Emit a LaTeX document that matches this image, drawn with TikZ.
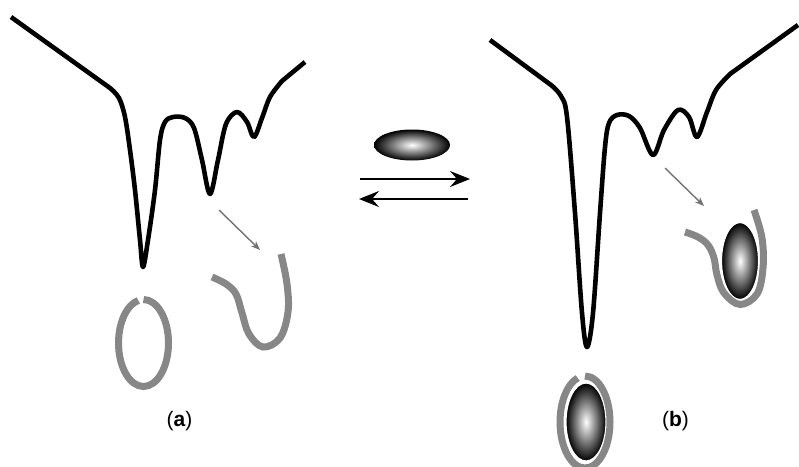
\documentclass[tikz,border=0pt]{standalone}
\usepackage{fontspec}
\setmainfont{Liberation Sans}
\usetikzlibrary{arrows.meta,shapes.geometric}
\newcommand{\strandwidth}{7pt}
\tikzset{
    curve style/.style={draw,black,line width=4.6pt,line join=round},
    strand style/.style={draw=black!47,line width=\strandwidth},
    ball style/.style={ellipse,inner sep=0pt,shading=radial,inner color=white,outer color=black},
    ball style bound/.style={ball style,draw=white,line width=1.2pt},
    arrow style eq/.style={line width=2.3pt,-{Stealth[length=20pt,width=16pt,inset=7pt]}},
    arrow style hint/.style={draw=black!55,line width=1.4pt,-{Stealth[length=9pt,width=7pt,inset=2.5pt]}},
    label style/.style={font=\fontsize{21}{24}\selectfont},
}

\begin{document}
\begin{tikzpicture}[x=1pt,y=-1pt]
\useasboundingbox (0,0) rectangle (799,466);

% free energy landscape, unbound state
\draw [curve style] (11,17) -- plot[smooth,tension=0.55] coordinates {
    (110,88) (119,98) (125,117) (130,150) (135,190) (140,240) (143,267)
    (148,240) (155,190) (160,140) (165,122) (173,117) (185,118) (194,128)
    (202,160) (210,194) (218,160) (226,124) (237,112) (247,122) (254,137)
    (262,118) (270,97) (282,81)} -- (305,62);

% free energy landscape, bound state
\draw [curve style] (490,40) -- plot[smooth,tension=0.55] coordinates {
    (551,85) (561,96) (567,117) (575,213) (582,313) (587,347)
    (593,313) (600,213) (605,147) (609,123) (617,115) (629,116) (640,128)
    (653,155) (664,130) (678,110) (689,117) (697,137) (707,112) (716,90)
    (730,74)} -- (798,25);

% ligand and the reversible step
\node [ball style,minimum width=76pt,minimum height=31pt] (ligand) at (412,145) {};
\coordinate (fwdL) at (360,179);
\coordinate (fwdR) at (470,179);
\coordinate (bwdL) at (359,199);
\coordinate (bwdR) at (468,199);
\draw [arrow style eq] (fwdL) -- (fwdR);
\draw [arrow style eq] (bwdR) -- (bwdL);

% unbound: closed loop and open strand
\draw [strand style] (143.5,343) ++(270:25 and 43.5)
    arc[start angle=270,end angle=618,x radius=25,y radius=43.5];
\draw [strand style] plot[smooth,tension=0.6] coordinates {
    (212,277) (226,284) (236,294) (242,313) (249,334) (263,347)
    (280,338) (288,312) (287,284) (281,254)};
\coordinate (hintA1) at (219,210);
\coordinate (hintA2) at (260,250);
\draw [arrow style hint] (hintA1) -- (hintA2);

% bound: ligand wrapped by the strand
\node [ball style bound,minimum width=37pt,minimum height=77pt] (boundB) at (740,261) {};
\draw [strand style] plot[smooth,tension=0.6] coordinates {
    (685,232) (698,237) (708,245) (714,258) (717,275) (724,293)
    (740,304.5) (757,294) (763,268) (762,238) (754,210)};
\coordinate (hintB1) at (665,168);
\coordinate (hintB2) at (704,206);
\draw [arrow style hint] (hintB1) -- (hintB2);

% bound: ligand inside the closed loop
\node [ball style bound,minimum width=40pt,minimum height=78pt] (boundA) at (586,422) {};
\draw [strand style] (585,422) ++(270:25 and 46)
    arc[start angle=270,end angle=613,x radius=25,y radius=46];

% panel labels
\node [label style] (lblA) at (179.5,421) {(\textbf{a})};
\node [label style] (lblB) at (675.5,421) {(\textbf{b})};

\end{tikzpicture}
\end{document}
